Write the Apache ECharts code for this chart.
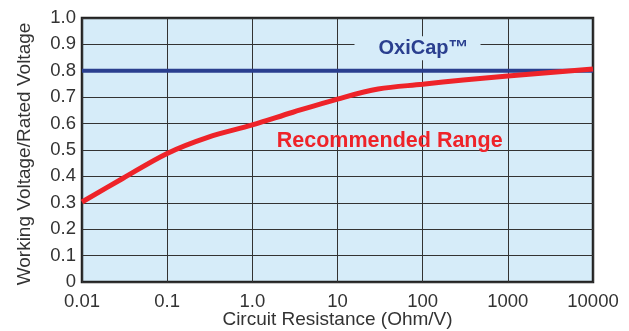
<!DOCTYPE html>
<html>
<head>
<meta charset="utf-8">
<script src="https://cdn.jsdelivr.net/npm/echarts@6/dist/echarts.min.js"></script>
<style>
html,body{margin:0;padding:0;background:#fff;}
#chart{width:629px;height:331px;}
</style>
</head>
<body>
<div id="chart"></div>
<script>
// Data
const resistance = [0.01, 0.03, 0.1, 0.3, 1, 3, 10, 30, 100, 300, 1000, 10000];
const recommended = [0.303, 0.392, 0.487, 0.548, 0.595, 0.643, 0.693, 0.731, 0.749, 0.765, 0.78, 0.807];
const oxicapX = [0.01, 10000];
const oxicapY = [0.8, 0.8];
const xTickLabels = {'-2': '0.01', '-1': '0.1', '0': '1.0', '1': '10', '2': '100', '3': '1000', '4': '10000'};
const oxicapLabel = 'OxiCap\u2122';
const rangeLabel = 'Recommended Range';
const oxicapLabelPos = [87, 0.885];
const rangeLabelPos = [41, 0.535];

const font = '"Liberation Sans", Arial, Helvetica, sans-serif';
const chart = echarts.init(document.getElementById('chart'), null, {renderer: 'canvas'});
chart.setOption({
  animation: false,
  grid: {
    left: 82, right: 36, top: 18, bottom: 49,
    containLabel: false, outerBoundsMode: 'none',
    show: true, backgroundColor: '#d6ecf9', borderColor: '#222', borderWidth: 2.5
  },
  xAxis: {
    type: 'log', logBase: 10, min: 0.01, max: 10000,
    name: 'Circuit Resistance (Ohm/V)', nameLocation: 'middle', nameGap: 28,
    nameMoveOverlap: false,
    nameTextStyle: {fontFamily: font, fontSize: 19, color: '#333'},
    axisLine: {show: false}, axisTick: {show: false}, minorTick: {show: false},
    axisLabel: {
      fontFamily: font, fontSize: 18.5, color: '#333', margin: 10,
      formatter: v => xTickLabels[String(Math.round(Math.log10(v)))] || ''
    },
    splitLine: {show: true, lineStyle: {color: '#333', width: 1}}
  },
  yAxis: {
    type: 'value', min: 0, max: 1, interval: 0.1,
    name: 'Working Voltage/Rated Voltage', nameLocation: 'middle', nameGap: 48,
    nameMoveOverlap: false,
    nameTextStyle: {fontFamily: font, fontSize: 19, color: '#333', padding: [0, 8, 0, 0]},
    axisLine: {show: false}, axisTick: {show: false},
    axisLabel: {
      fontFamily: font, fontSize: 18.5, color: '#333', margin: 6,
      formatter: v => v === 0 ? '0' : v.toFixed(1)
    },
    splitLine: {show: true, lineStyle: {color: '#333', width: 1}}
  },
  series: [
    {
      type: 'line', data: oxicapX.map((x, i) => [x, oxicapY[i]]),
      symbol: 'none', lineStyle: {color: '#2a3f8f', width: 4}, z: 3,
      markPoint: {
        symbol: 'circle', symbolSize: 0, silent: true,
        data: [{coord: oxicapLabelPos}],
        label: {
          show: true, position: 'inside', formatter: oxicapLabel,
          fontFamily: font, fontWeight: 'bold', fontSize: 20, color: '#2a3f8f',
          backgroundColor: '#d6ecf9', padding: [2, 12, 2, 24]
        }
      }
    },
    {
      type: 'line', data: resistance.map((x, i) => [x, recommended[i]]),
      symbol: 'none', smooth: 0.35, lineStyle: {color: '#ee2329', width: 5}, z: 4,
      markPoint: {
        symbol: 'circle', symbolSize: 0, silent: true,
        data: [{coord: rangeLabelPos}],
        label: {
          show: true, position: 'inside', formatter: rangeLabel,
          fontFamily: font, fontWeight: 'bold', fontSize: 21.5, color: '#ee2329'
        }
      }
    }
  ]
});
</script>
</body>
</html>
